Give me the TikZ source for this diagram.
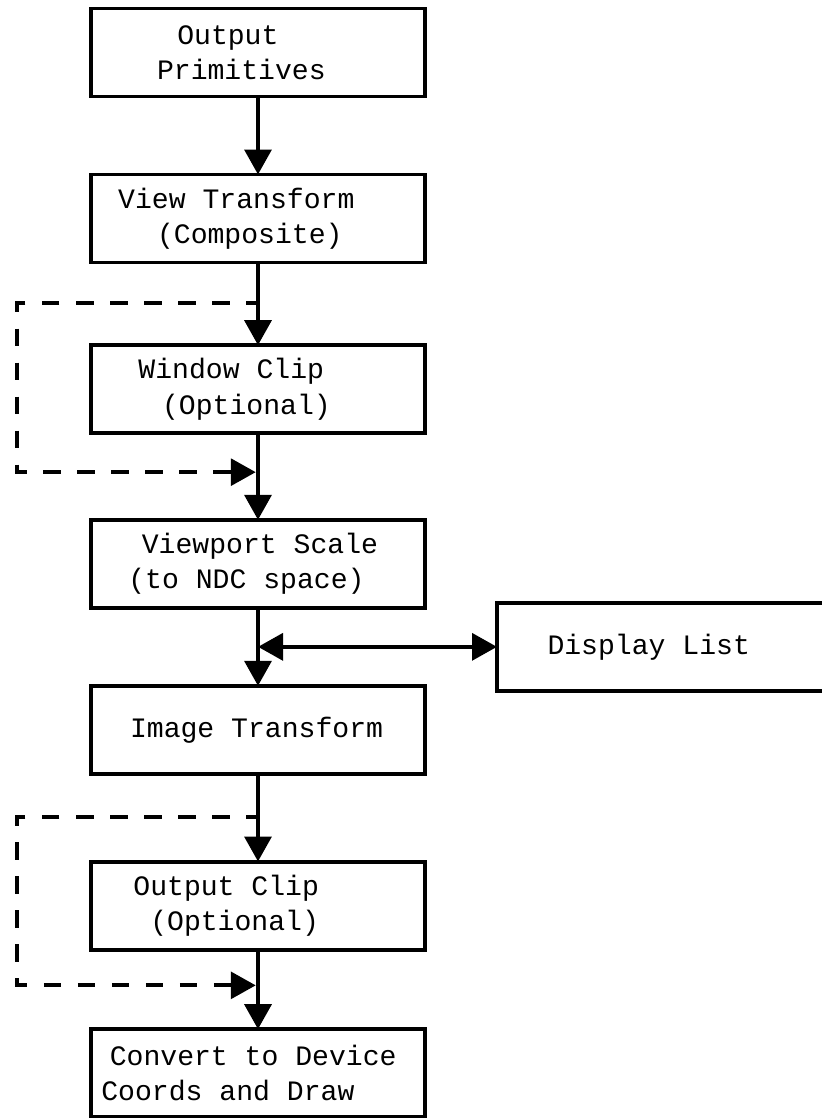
\documentclass[tikz,border=0pt]{standalone}
\usepackage{fontspec}
\usepackage{tikz}
\usetikzlibrary{arrows.meta, positioning, calc}
\newfontfamily\plotfont{Liberation Mono}
\newcommand{\boxfont}{\plotfont\fontsize{24}{30}\selectfont}
\newcommand{\indentch}[1]{\hspace*{#1\fontcharwd\font`0}}

\begin{document}
\begin{tikzpicture}[
        >={Triangle[length=0.75cm,width=0.8cm]},
        block/.style={rectangle, draw, line width=3.4pt, outer sep=0pt, text width=9.4cm, inner xsep=0.3cm, inner ysep=0pt, minimum height=2.64cm, align=flush left, font=\boxfont},
        flow/.style={draw, line width=3.8pt, ->},
        bypass/.style={draw, line width=3.6pt, dash pattern=on 0.52cm off 0.5cm, dash phase=0.165cm, shorten >=1.9pt, ->}
    ]
        \useasboundingbox (0,0) rectangle (24.66,-33.54);

        % Pipeline
        \node [block] (out_prim) at (7.74,-1.575) {\indentch{4.5}Output\\\indentch{3.3}Primitives};
        \node [block, below=2.34cm of out_prim] (view_tf) {\indentch{1}View Transform\\\indentch{3.3}(Composite)};
        \node [block, below=2.48cm of view_tf] (win_clip) {\indentch{2.2}Window Clip\\\indentch{3.6}(Optional)};
        \node [block, below=2.6cm of win_clip] (vp_scale) {\indentch{2.4}Viewport Scale\\\indentch{1.6}(to NDC space)};
        \node [block, below=2.34cm of vp_scale] (img_tf) {\indentch{1.7}Image Transform};
        \node [block, below=2.63cm of img_tf] (out_clip) {\indentch{1.9}Output Clip\\\indentch{2.9}(Optional)};
        \node [block, below=2.39cm of out_clip] (dev_draw) {\indentch{0.5}Convert to Device\\Coords and Draw};

        % Display list
        \coordinate (jn) at ($(vp_scale.south)!0.5!(img_tf.north)$);
        \node [block, text width=9.27cm, right=7.17cm of jn] (disp_list) {\indentch{2.4}Display List};

        % Bypass points
        \coordinate (wc_in) at ($(view_tf.south)!0.49!(win_clip.north)$);
        \coordinate (wc_out) at ($(win_clip.south)!0.45!(vp_scale.north)$);
        \coordinate (oc_in) at ($(img_tf.south)!0.49!(out_clip.north)$);
        \coordinate (oc_out) at ($(out_clip.south)!0.45!(dev_draw.north)$);
        \coordinate (bypass_x) at (0.51,0);

        % Paths
        \path [flow] (out_prim) -- (view_tf);
        \path [flow] (view_tf) -- (win_clip);
        \path [flow] (win_clip) -- (vp_scale);
        \path [flow] (vp_scale) -- (img_tf);
        \path [flow] (img_tf) -- (out_clip);
        \path [flow] (out_clip) -- (dev_draw);
        \path [flow, <->] (jn) -- (disp_list);
        % Optional clips
        \path [bypass] (wc_in) -| (bypass_x |- wc_out) -- (wc_out);
        \path [bypass] (oc_in) -| (bypass_x |- oc_out) -- (oc_out);

    \end{tikzpicture}
\end{document}
